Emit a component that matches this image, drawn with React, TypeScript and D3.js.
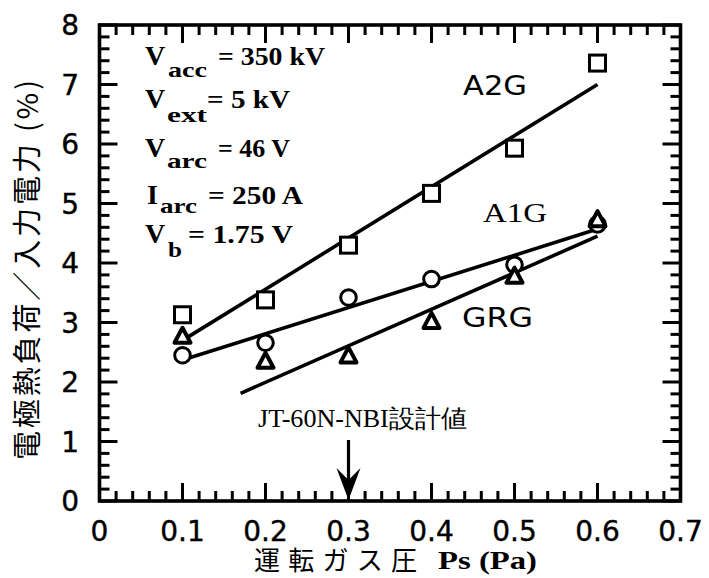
import React from "react";
import * as d3 from "d3";

const pressures = [0.1, 0.2, 0.3, 0.4, 0.5, 0.6];
const a2g = [3.13, 3.38, 4.3, 5.17, 5.93, 7.36];
const a1g = [2.45, 2.66, 3.42, 3.73, 3.97, 4.65];
const grg = [2.76, 2.34, 2.43, 3.01, 3.77, 4.72];

const a2gFit: [number, number][] = [[0.1, 2.7], [0.6, 7.0]];
const a1gFit: [number, number][] = [[0.1, 2.37], [0.6, 4.57]];
const grgFit: [number, number][] = [[0.17, 1.81], [0.6, 4.45]];

const xTickLabels = ["0", "0.1", "0.2", "0.3", "0.4", "0.5", "0.6", "0.7"];
const yTickLabels = ["0", "1", "2", "3", "4", "5", "6", "7", "8"];
const designPressure = 0.3;

const W = 709;
const H = 578;
const L = 99.5, R = 680.5, T = 25, B = 501;

const sansNum = "'DejaVu Sans', sans-serif";
const serif = "'Liberation Serif', 'Times New Roman', serif";
const cjk = "'Noto Sans CJK JP', sans-serif";

export default function App() {
  const x = d3.scaleLinear().domain([0, 0.7]).range([L, R]);
  const y = d3.scaleLinear().domain([0, 8]).range([B, T]);
  const line = d3.line<[number, number]>().x((d) => x(d[0])).y((d) => y(d[1]));

  const xMinor = d3.range(0, 36).map((i) => i / 50);
  const yMinor = d3.range(0, 41).map((i) => i / 5);

  const ticks: JSX.Element[] = [];
  xMinor.forEach((v, i) => {
    const major = i % 5 === 0;
    const len = major ? 18 : 10;
    const px = x(v);
    ticks.push(<line key={"xb" + i} x1={px} x2={px} y1={B} y2={B - len} stroke="#000" strokeWidth={3} />);
    ticks.push(<line key={"xt" + i} x1={px} x2={px} y1={T} y2={T + len} stroke="#000" strokeWidth={3} />);
  });
  yMinor.forEach((v, i) => {
    const major = i % 5 === 0;
    const len = major ? 18 : 10;
    const py = y(v);
    ticks.push(<line key={"yl" + i} x1={L} x2={L + len} y1={py} y2={py} stroke="#000" strokeWidth={3} />);
    ticks.push(<line key={"yr" + i} x1={R} x2={R - len} y1={py} y2={py} stroke="#000" strokeWidth={3} />);
  });

  const tri = (cx: number, cy: number) =>
    `M${cx},${cy - 9}L${cx - 8},${cy + 6}L${cx + 8},${cy + 6}Z`;

  const params = [
    { main: "V", mx: 145, sub: "acc", sx: 168, sw: 39, rest: "= 350 kV", rx: 218, rw: 107, by: 65, sy: 77 },
    { main: "V", mx: 145, sub: "ext", sx: 167, sw: 40, rest: "= 5 kV", rx: 207, rw: 83, by: 108, sy: 122 },
    { main: "V", mx: 145, sub: "arc", sx: 167, sw: 40, rest: "= 46 V", rx: 218, rw: 72, by: 157, sy: 168 },
    { main: "I", mx: 147, sub: "arc", sx: 160, sw: 37, rest: "= 250 A", rx: 208, rw: 95, by: 204, sy: 213 },
    { main: "V", mx: 145, sub: "b", sx: 168, sw: 14, rest: "= 1.75 V", rx: 188, rw: 105, by: 243, sy: 257 },
  ];

  const ax = x(designPressure);

  return (
    <svg width={W} height={H} style={{ position: "absolute", left: 0, top: 0, background: "#fff" }}>
      <rect x={0} y={0} width={W} height={H} fill="#fff" />
      {ticks}
      <rect x={L} y={T} width={R - L} height={B - T} fill="none" stroke="#000" strokeWidth={3.6} />

      {/* tick labels */}
      {xTickLabels.map((t, i) => (
        <text key={"xl" + i} x={x(i / 10)} y={541} textAnchor="middle" fontFamily={sansNum} fontSize={28} stroke="#000" strokeWidth={0.4}>
          {t}
        </text>
      ))}
      {yTickLabels.map((t, i) => (
        <text key={"yl" + i} x={79} y={y(i) + 10} textAnchor="end" fontFamily={sansNum} fontSize={28} stroke="#000" strokeWidth={0.4}>
          {t}
        </text>
      ))}

      {/* axis titles */}
      <text x={254} y={570} fontFamily={cjk} fontSize={26} textLength={163} lengthAdjust="spacing">
        運転ガス圧
      </text>
      <text x={438} y={569} fontFamily={serif} fontWeight={700} fontSize={26} textLength={99} lengthAdjust="spacingAndGlyphs">
        Ps (Pa)
      </text>
      <text
        transform={`translate(38,270) rotate(-90)`}
        textAnchor="middle"
        fontFamily={cjk}
        fontSize={29}
        textLength={380}
        lengthAdjust="spacing"
      >
        電極熱負荷／入力電力 (%)
      </text>

      {/* fit lines */}
      <path d={line(a2gFit) || ""} fill="none" stroke="#000" strokeWidth={3.6} />
      <path d={line(a1gFit) || ""} fill="none" stroke="#000" strokeWidth={3.6} />
      <path d={line(grgFit) || ""} fill="none" stroke="#000" strokeWidth={3.6} />

      {/* markers */}
      {pressures.map((p, i) => (
        <rect key={"sq" + i} x={x(p) - 8} y={y(a2g[i]) - 8} width={16} height={16} fill="#fff" stroke="#000" strokeWidth={3} />
      ))}
      {pressures.map((p, i) => (
        <circle key={"c" + i} cx={x(p)} cy={y(a1g[i])} r={7.8} fill="#fff" stroke="#000" strokeWidth={3} />
      ))}
      {pressures.map((p, i) => (
        <path key={"t" + i} d={tri(x(p), y(grg[i]))} fill="#fff" stroke="#000" strokeWidth={4} strokeLinejoin="round" />
      ))}

      {/* series labels */}
      <text x={463} y={95} fontFamily={sansNum} fontSize={26} textLength={64} lengthAdjust="spacingAndGlyphs">
        A2G
      </text>
      <text x={483} y={222} fontFamily={serif} fontSize={28} textLength={64} lengthAdjust="spacingAndGlyphs">
        A1G
      </text>
      <text x={462} y={327} fontFamily={sansNum} fontSize={26} textLength={71} lengthAdjust="spacingAndGlyphs">
        GRG
      </text>

      {/* parameters */}
      {params.map((p, i) => (
        <g key={"p" + i} fontFamily={serif} fontWeight={700}>
          <text x={p.mx} y={p.by} fontSize={28}>{p.main}</text>
          <text x={p.sx} y={p.sy} fontSize={22} textLength={p.sw} lengthAdjust="spacingAndGlyphs">{p.sub}</text>
          <text x={p.rx} y={p.by} fontSize={26} textLength={p.rw} lengthAdjust="spacingAndGlyphs">{p.rest}</text>
        </g>
      ))}

      {/* design value annotation */}
      <text x={258} y={427} fontFamily={serif} fontSize={25} textLength={209} lengthAdjust="spacingAndGlyphs">
        JT-60N-NBI設計値
      </text>
      <line x1={ax} x2={ax} y1={440} y2={490} stroke="#000" strokeWidth={3.2} />
      <path
        d={`M${ax},${B - 1}L${ax - 12},${468}L${ax},${480}L${ax + 12},${468}Z`}
        fill="#000"
      />
    </svg>
  );
}
